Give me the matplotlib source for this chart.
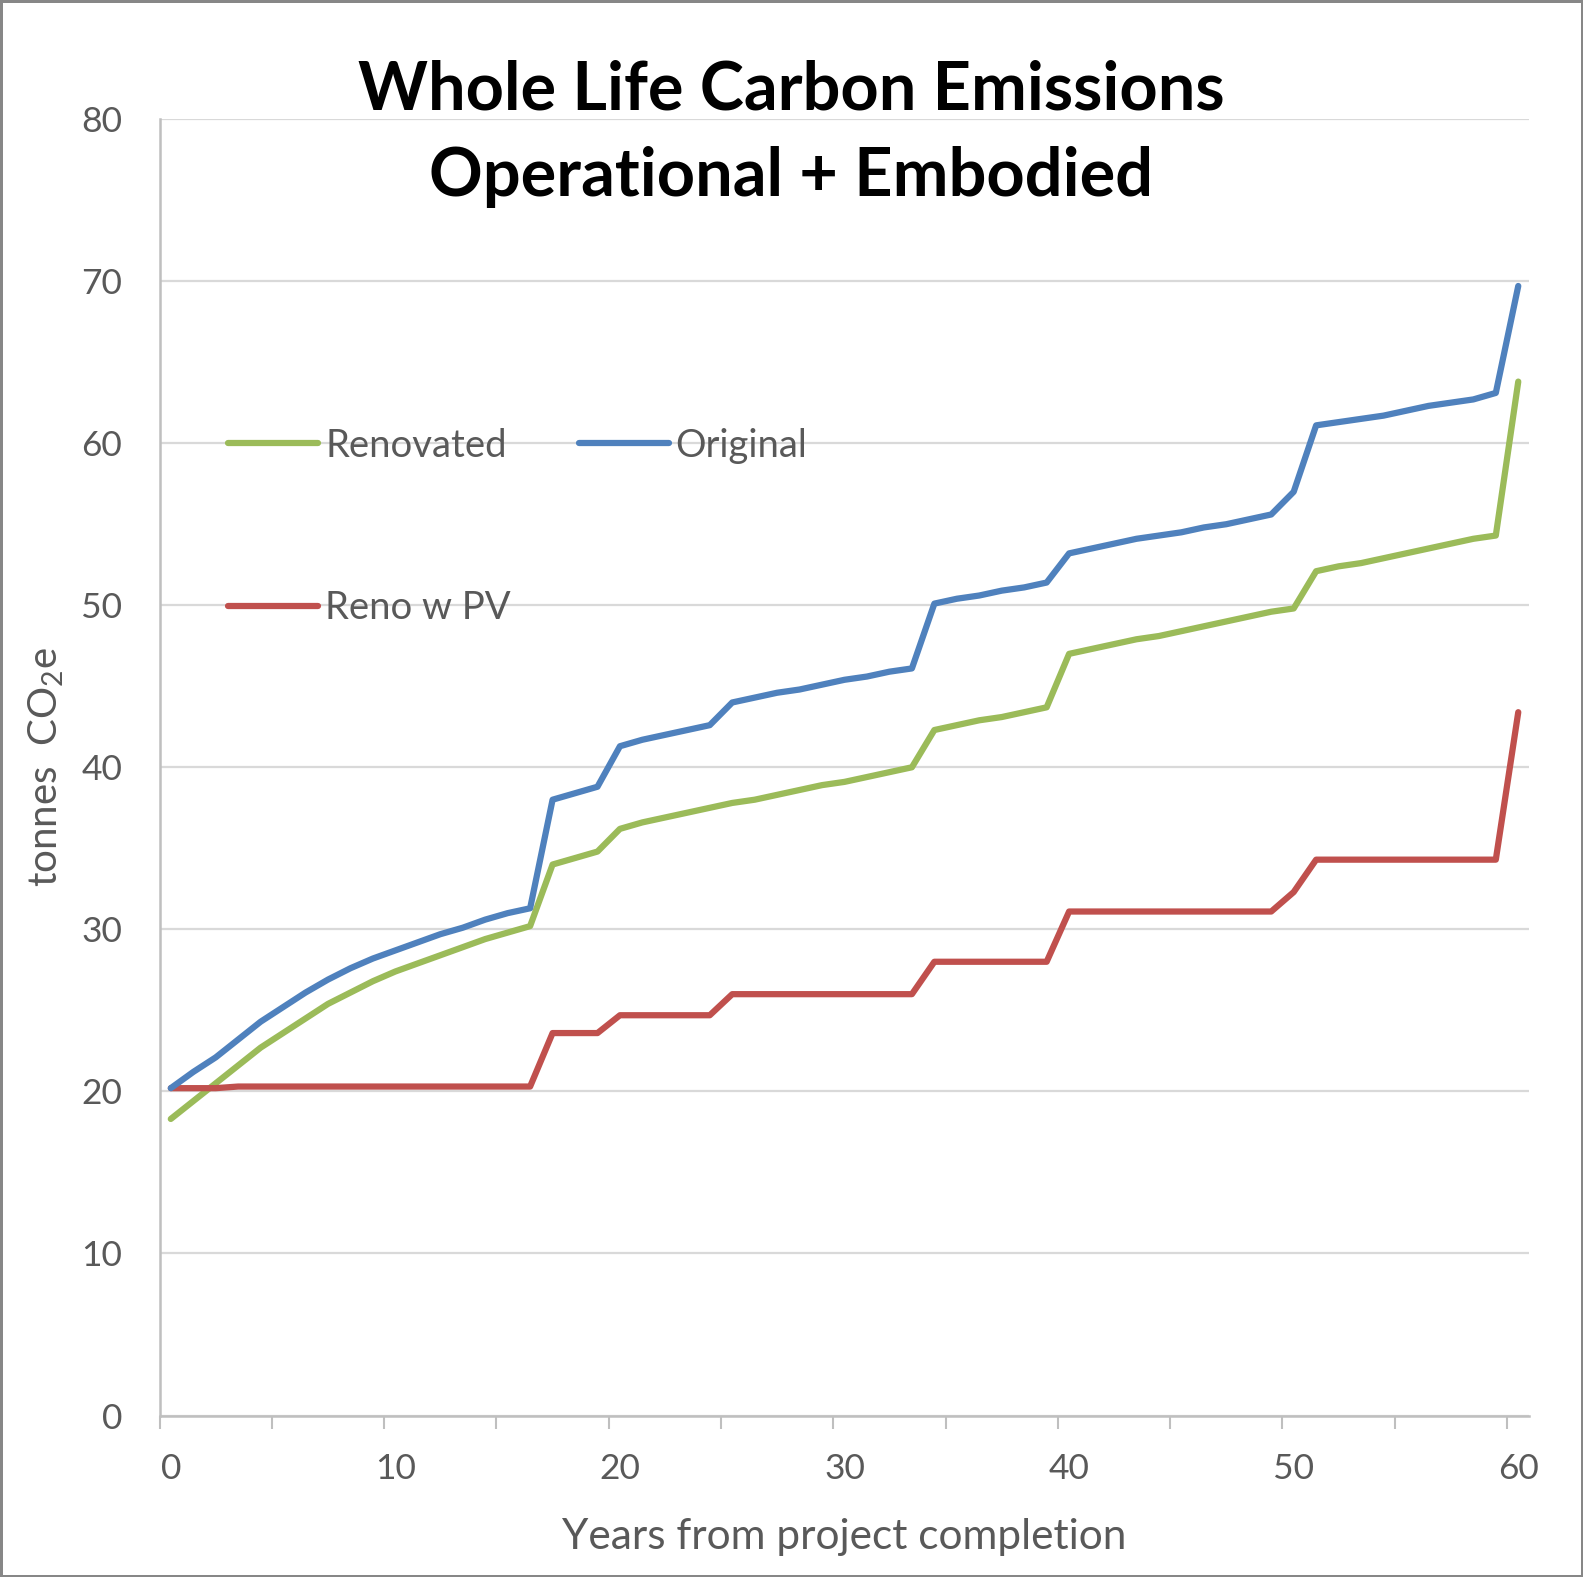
import matplotlib
matplotlib.use("Agg")
import matplotlib.pyplot as plt
import numpy as np

plt.rcParams['font.family'] = ['Lato', 'DejaVu Sans']
plt.rcParams['mathtext.default'] = 'regular'

years = list(range(0, 61))

renovated = [18.3, 19.4, 20.5, 21.6, 22.7, 23.6, 24.5, 25.4, 26.1, 26.8,
             27.4, 27.9, 28.4, 28.9, 29.4, 29.8, 30.2, 34.0, 34.4, 34.8,
             36.2, 36.6, 36.9, 37.2, 37.5, 37.8, 38.0, 38.3, 38.6, 38.9,
             39.1, 39.4, 39.7, 40.0, 42.3, 42.6, 42.9, 43.1, 43.4, 43.7,
             47.0, 47.3, 47.6, 47.9, 48.1, 48.4, 48.7, 49.0, 49.3, 49.6,
             49.8, 52.1, 52.4, 52.6, 52.9, 53.2, 53.5, 53.8, 54.1, 54.3,
             63.8]

original = [20.2, 21.2, 22.1, 23.2, 24.3, 25.2, 26.1, 26.9, 27.6, 28.2,
            28.7, 29.2, 29.7, 30.1, 30.6, 31.0, 31.3, 38.0, 38.4, 38.8,
            41.3, 41.7, 42.0, 42.3, 42.6, 44.0, 44.3, 44.6, 44.8, 45.1,
            45.4, 45.6, 45.9, 46.1, 50.1, 50.4, 50.6, 50.9, 51.1, 51.4,
            53.2, 53.5, 53.8, 54.1, 54.3, 54.5, 54.8, 55.0, 55.3, 55.6,
            57.0, 61.1, 61.3, 61.5, 61.7, 62.0, 62.3, 62.5, 62.7, 63.1,
            69.7]

reno_pv = [20.2, 20.2, 20.2, 20.3, 20.3, 20.3, 20.3, 20.3, 20.3, 20.3,
           20.3, 20.3, 20.3, 20.3, 20.3, 20.3, 20.3, 23.6, 23.6, 23.6,
           24.7, 24.7, 24.7, 24.7, 24.7, 26.0, 26.0, 26.0, 26.0, 26.0,
           26.0, 26.0, 26.0, 26.0, 28.0, 28.0, 28.0, 28.0, 28.0, 28.0,
           31.1, 31.1, 31.1, 31.1, 31.1, 31.1, 31.1, 31.1, 31.1, 31.1,
           32.3, 34.3, 34.3, 34.3, 34.3, 34.3, 34.3, 34.3, 34.3, 34.3,
           43.4]

x_labels = [0, 10, 20, 30, 40, 50, 60]
y_ticks = [0, 10, 20, 30, 40, 50, 60, 70, 80]

c_green = '#9BBB59'
c_blue = '#4F81BD'
c_red = '#C0504D'
txt = '#595959'

fig = plt.figure(figsize=(15.83, 15.77), dpi=100, linewidth=2.5, edgecolor='#878787')
ax = fig.add_axes([0.1008, 0.1024, 0.9662 - 0.1008, 0.9245 - 0.1024])

lw = 4.5
kw = dict(lw=lw, solid_capstyle='round', solid_joinstyle='round', zorder=3)
lg, = ax.plot(years, renovated, color=c_green, label='Renovated', **kw)
lr, = ax.plot(years, reno_pv, color=c_red, label='Reno w PV', **kw)
lb, = ax.plot(years, original, color=c_blue, label='Original', **kw)

ax.set_xlim(-0.5, 60.5)
ax.set_ylim(0, 80)
ax.set_yticks(y_ticks)
ax.set_xticks(x_labels)
ax.set_xticks(np.arange(-0.5, 61, 5), minor=True)
ax.tick_params(axis='x', which='major', length=0, pad=27, labelsize=25.5, labelcolor=txt)
ax.tick_params(axis='x', which='minor', length=9.5, width=1.5, color='#BFBFBF', direction='out')
ax.tick_params(axis='y', which='both', length=0, pad=27, labelsize=25.5, labelcolor=txt)

ax.grid(axis='y', color='#D9D9D9', lw=1.6, zorder=0)
ax.set_axisbelow(True)
for s in ['top', 'right']:
    ax.spines[s].set_visible(False)
for s in ['left', 'bottom']:
    ax.spines[s].set_color('#BFBFBF')
    ax.spines[s].set_linewidth(1.8)

ax.set_xlabel('Years from project completion', fontsize=30.5, color=txt, labelpad=24)
ax.set_ylabel('tonnes  CO$_2$e', fontsize=29, color=txt, labelpad=11)

fig.text(0.5, 0.915, 'Whole Life Carbon Emissions\nOperational + Embodied', ha='center', va='center',
         fontsize=48, fontweight='bold', color='black', linespacing=1.49)

leg = ax.legend(handles=[lg, lr, lb], ncol=2, loc='upper left', bbox_to_anchor=(0.05, 0.762),
                frameon=False, fontsize=27.5, handlelength=2.36, handletextpad=0.18,
                columnspacing=1.78, labelspacing=3.32, borderpad=0, borderaxespad=0)
for t in leg.get_texts():
    t.set_color(txt)

fig.savefig('out.png', dpi=100)
